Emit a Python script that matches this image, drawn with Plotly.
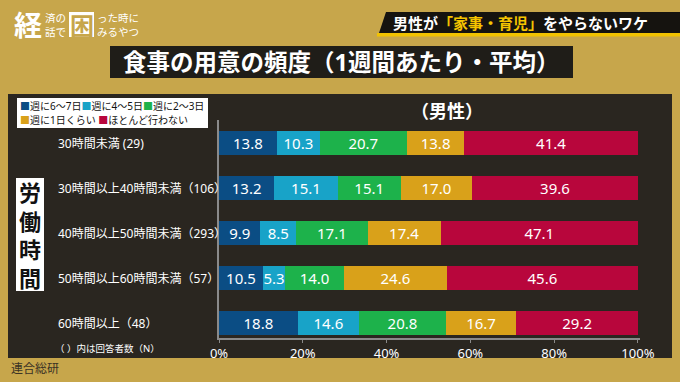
import plotly.graph_objects as go

# ---------------- data ----------------
categories = [
    "30時間未満 (29)",
    "30時間以上40時間未満（106）",
    "40時間以上50時間未満（293）",
    "50時間以上60時間未満（57）",
    "60時間以上（48）",
]
series_names = ["週に6～7日", "週に4～5日", "週に2～3日", "週に1日くらい", "ほとんど行わない"]
s_6_7 = [13.8, 13.2, 9.9, 10.5, 18.8]
s_4_5 = [10.3, 15.1, 8.5, 5.3, 14.6]
s_2_3 = [20.7, 15.1, 17.1, 14.0, 20.8]
s_1 = [13.8, 17.0, 17.4, 24.6, 16.7]
s_none = [41.4, 39.6, 47.1, 45.6, 29.2]
tick_vals = [0, 20, 40, 60, 80, 100]
tick_text = ["0%", "20%", "40%", "60%", "80%", "100%"]

series_values = [s_6_7, s_4_5, s_2_3, s_1, s_none]
colors = ["#0b4d84", "#18a3c8", "#1db24b", "#d9a11a", "#b8063c"]

W, H = 680, 382
L, R, T, B = 219, 640, 120, 338
FONT = "Noto Sans, Noto Sans CJK JP, sans-serif"
GOLD = "#c7a64b"
PANEL = "#2a2620"


def X(px):
    return (px - L) / (R - L)


def Y(py):
    return (B - py) / (B - T)


fig = go.Figure()
for name, vals, col in zip(series_names, series_values, colors):
    fig.add_trace(go.Bar(
        y=categories, x=vals, name=name, orientation="h",
        marker=dict(color=col, line=dict(width=0)),
        text=vals, texttemplate="%{x:.1f}", textposition="inside",
        insidetextanchor="middle", textangle=0,
        textfont=dict(color="white", size=15, family=FONT),
        width=0.52, showlegend=False, hoverinfo="skip",
    ))

shapes = []
# dark panel
shapes.append(dict(type="rect", xref="paper", yref="paper", layer="below",
                   x0=X(8), x1=X(672), y0=Y(94), y1=Y(358),
                   fillcolor=PANEL, line=dict(width=0)))
# title banner
shapes.append(dict(type="rect", xref="paper", yref="paper", layer="below",
                   x0=X(110), x1=X(573), y0=Y(46), y1=Y(78),
                   fillcolor="#1f1d18", line=dict(width=0)))
# top-right tag (parallelogram) + yellow underline
shapes.append(dict(type="path", xref="paper", yref="paper", layer="below",
                   path=f"M {X(386)} {Y(12)} L {X(680)} {Y(12)} L {X(680)} {Y(33)} L {X(379)} {Y(33)} Z",
                   fillcolor="#15130f", line=dict(width=0)))
shapes.append(dict(type="rect", xref="paper", yref="paper", layer="below",
                   x0=X(377), x1=X(680), y0=Y(33), y1=Y(36.5),
                   fillcolor="#f2c200", line=dict(width=0)))
# legend box
shapes.append(dict(type="rect", xref="paper", yref="paper", layer="below",
                   x0=X(17), x1=X(208), y0=Y(98), y1=Y(128),
                   fillcolor="white", line=dict(width=0)))
# 労働時間 box
shapes.append(dict(type="rect", xref="paper", yref="paper", layer="below",
                   x0=X(16), x1=X(44), y0=Y(178), y1=Y(291),
                   fillcolor="white", line=dict(width=0)))
# logo 困 box
shapes.append(dict(type="rect", xref="paper", yref="paper", layer="below",
                   x0=X(69), x1=X(94), y0=Y(12), y1=Y(37),
                   fillcolor="white", line=dict(width=0)))

ann = []


def text(px, py, s, size, color="white", xanchor="left", bold=False, family=FONT, align="left"):
    if bold:
        s = f"<b>{s}</b>"
    ann.append(dict(xref="paper", yref="paper", x=X(px), y=Y(py), text=s,
                    showarrow=False, xanchor=xanchor, yanchor="middle", borderpad=0,
                    align=align, font=dict(size=size, color=color, family=family)))


# category labels
for c in categories:
    ann.append(dict(xref="paper", yref="y", x=X(56), y=c, text=c, showarrow=False,
                    xanchor="left", yanchor="middle",
                    font=dict(size=12, color="white", family=FONT)))

# legend rows
def sw(i):
    return f"<span style='color:{colors[i]}'>■</span>{series_names[i]}"

text(19, 106, sw(0) + sw(1) + sw(2), 10, color="#111")
text(19, 120, sw(3) + " " + sw(4), 10, color="#111")

# (男性)
text(447, 111, "（男性）", 18, xanchor="center", bold=True)

# title
text(341, 62, "食事の用意の頻度（1週間あたり・平均）", 23.5, xanchor="center", bold=True)

# top-right tag
text(392, 23, "男性が<span style='color:#f5c400'>「家事・育児」</span>をやらないワケ", 15, bold=True)

# logo
text(13, 25, "経", 28, bold=True)
text(44, 25, "済の<br>話で", 10.5)
text(81.5, 25, "困", 24, color=GOLD, xanchor="center", bold=True)
text(96, 25, "った時に<br>みるやつ", 10.5)

# 労働時間 vertical
text(30, 235, "労<br>働<br>時<br>間", 22, color="#111", xanchor="center", bold=True, align="center")

# footnotes
text(54, 348, "（ ）内は回答者数（N）", 9.5)
text(10, 368, "連合総研", 12, color="#3b3325")

fig.update_layout(
    width=W, height=H,
    margin=dict(l=L, r=W - R, t=T, b=H - B, pad=0),
    paper_bgcolor=GOLD, plot_bgcolor="rgba(0,0,0,0)",
    barmode="stack", bargap=0.4,
    uniformtext=dict(minsize=15, mode="show"),
    shapes=shapes, annotations=ann,
    font=dict(family=FONT, color="white"),
    xaxis=dict(range=[0, 100.5], tickvals=tick_vals, ticktext=tick_text,
               showgrid=False, zeroline=False, showline=True, linecolor="#8a8a8a",
               linewidth=1.5, ticks="outside", ticklen=3, tickcolor="#8a8a8a",
               tickfont=dict(size=13, color="white", family=FONT), fixedrange=True),
    yaxis=dict(type="category", categoryorder="array", categoryarray=categories,
               range=[4.333, -0.511], showticklabels=False, showgrid=False,
               zeroline=False, showline=True, linecolor="#8a8a8a", linewidth=1.5,
               ticks="", fixedrange=True),
)

fig.write_html("out.html", config={"displayModeBar": False},
               post_script="document.body.style.margin='0';document.body.style.background='" + GOLD + "';")
